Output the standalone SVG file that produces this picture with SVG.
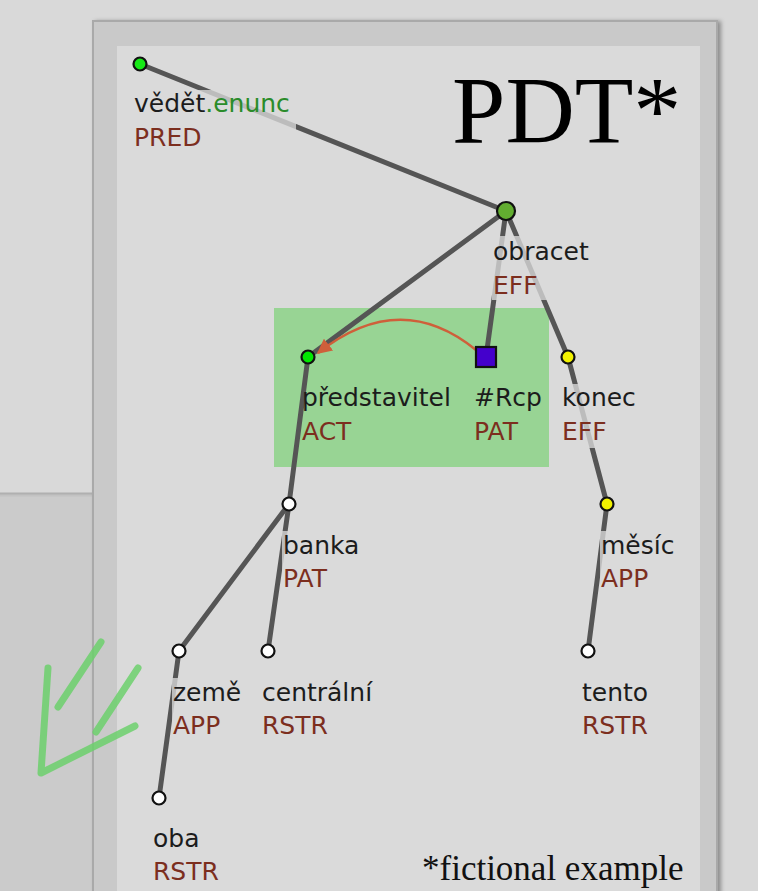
<svg xmlns="http://www.w3.org/2000/svg" width="758" height="891" viewBox="0 0 758 891">
<defs>
<style>
.lbl{font-family:"DejaVu Sans","Liberation Sans",sans-serif;font-size:25px;fill:#1c1c1c}
.fn{fill:#7c2e1e}
.enunc{fill:#2a8c2a}
.edge{stroke:#555;stroke-width:5;stroke-linecap:round;fill:none}
.nd{stroke:#111;stroke-width:2.2}
.bg{fill:#dadada;fill-opacity:0.78}
.gr{stroke:#6cd06c;stroke-opacity:0.85;stroke-width:7;stroke-linecap:round;stroke-linejoin:round;fill:none}
</style>
<marker id="ah" viewBox="0 0 10 10" refX="9" refY="5" markerWidth="6" markerHeight="6" orient="auto" markerUnits="strokeWidth">
<path d="M0,0 L10,5 L0,10 z" fill="#cf5f3a"/>
</marker>
<filter id="sh" x="-5%" y="-5%" width="110%" height="110%">
<feDropShadow dx="3" dy="1" stdDeviation="2" flood-color="#000" flood-opacity="0.35"/>
</filter>
</defs>
<rect x="0" y="0" width="758" height="891" fill="#d8d8d8"/>
<rect x="0" y="493" width="117" height="398" fill="#cbcbcb"/>
<rect id="leftpanel" x="0" y="0" width="110" height="493" fill="#d9d9d9"/>
<line x1="0" y1="495" x2="110" y2="495" stroke="#c2c2c2" stroke-width="3"/>
<line x1="0" y1="493.5" x2="110" y2="493.5" stroke="#b0b0b0" stroke-width="2"/>
<rect id="frame" x="93" y="21" width="624" height="880" fill="#c9c9c9" stroke="#a9a9a9" stroke-width="2" filter="url(#sh)"/>
<rect id="sheet" x="117" y="46" width="583" height="850" fill="#dadada"/>
<rect id="highlight" x="274" y="308" width="275" height="159" fill="#98d494"/>
<g id="connectors">
<line class="edge" x1="140" y1="64" x2="506" y2="211"/>
<line class="edge" x1="506" y1="211" x2="308" y2="357"/>
<line class="edge" x1="506" y1="211" x2="486" y2="357"/>
<line class="edge" x1="506" y1="211" x2="568" y2="357"/>
<line class="edge" x1="308" y1="357" x2="289" y2="504"/>
<line class="edge" x1="568" y1="357" x2="607" y2="504"/>
<line class="edge" x1="289" y1="504" x2="179" y2="651"/>
<line class="edge" x1="289" y1="504" x2="268" y2="651"/>
<line class="edge" x1="607" y1="504" x2="588" y2="651"/>
<line class="edge" x1="179" y1="651" x2="159" y2="798"/>
<path d="M476,350 Q400,288 318,353" stroke="#cf5f3a" stroke-width="2.5" fill="none" marker-end="url(#ah)"/>
</g>
<g id="label-backgrounds">
<rect class="bg" x="134" y="90" width="162" height="64"/>
<rect class="bg" x="492" y="236" width="100" height="64"/>
<rect class="bg" x="561" y="384" width="78" height="64"/>
<rect class="bg" x="282" y="531" width="80" height="64"/>
<rect class="bg" x="600" y="531" width="80" height="64"/>
<rect class="bg" x="172" y="678" width="76" height="64"/>
<rect class="bg" x="262" y="678" width="118" height="64"/>
<rect class="bg" x="581" y="678" width="72" height="64"/>
<rect class="bg" x="152" y="825" width="70" height="64"/>
</g>
<g id="n-vedet"><circle class="nd" cx="140" cy="64" r="6.5" fill="#16e816"/>
<text class="lbl" x="134" y="112">vědět<tspan class="enunc">.enunc</tspan></text><text class="lbl fn" x="134" y="146">PRED</text></g>
<g id="n-obracet"><circle class="nd" cx="506" cy="211" r="9" fill="#62ad30"/>
<text class="lbl" x="493" y="260">obracet</text><text class="lbl fn" x="493" y="294">EFF</text></g>
<g id="n-predstavitel"><circle class="nd" cx="308" cy="357" r="6.5" fill="#00e800"/>
<text class="lbl" x="302" y="406">představitel</text><text class="lbl fn" x="302" y="440">ACT</text></g>
<g id="n-rcp"><rect class="nd" x="476" y="347" width="20" height="20" fill="#4400cc"/>
<text class="lbl" x="474" y="406">#Rcp</text><text class="lbl fn" x="474" y="440">PAT</text></g>
<g id="n-konec"><circle class="nd" cx="568" cy="357" r="6.5" fill="#f2f200"/>
<text class="lbl" x="562" y="406">konec</text><text class="lbl fn" x="562" y="440">EFF</text></g>
<g id="n-banka"><circle class="nd" cx="289" cy="504" r="6.5" fill="#ffffff"/>
<text class="lbl" x="283" y="554">banka</text><text class="lbl fn" x="283" y="587">PAT</text></g>
<g id="n-mesic"><circle class="nd" cx="607" cy="504" r="6.5" fill="#f2f200"/>
<text class="lbl" x="601" y="554">měsíc</text><text class="lbl fn" x="601" y="587">APP</text></g>
<g id="n-zeme"><circle class="nd" cx="179" cy="651" r="6.5" fill="#ffffff"/>
<text class="lbl" x="173" y="701">země</text><text class="lbl fn" x="173" y="734">APP</text></g>
<g id="n-centralni"><circle class="nd" cx="268" cy="651" r="6.5" fill="#ffffff"/>
<text class="lbl" x="262" y="701">centrální</text><text class="lbl fn" x="262" y="734">RSTR</text></g>
<g id="n-tento"><circle class="nd" cx="588" cy="651" r="6.5" fill="#ffffff"/>
<text class="lbl" x="582" y="701">tento</text><text class="lbl fn" x="582" y="734">RSTR</text></g>
<g id="n-oba"><circle class="nd" cx="159" cy="798" r="6.5" fill="#ffffff"/>
<text class="lbl" x="153" y="847">oba</text><text class="lbl fn" x="153" y="880">RSTR</text></g>
<text x="452" y="143" font-family="Liberation Serif, serif" font-size="96" fill="#000">PDT*</text>
<text x="422" y="880" font-family="Liberation Serif, serif" font-size="35" fill="#111">*fictional example</text>
<g id="green-arrow">
<line class="gr" x1="101" y1="642" x2="58" y2="707"/>
<line class="gr" x1="138" y1="668" x2="96" y2="732"/>
<polyline class="gr" points="48,668 41,773 135,726"/>
</g>
</svg>
